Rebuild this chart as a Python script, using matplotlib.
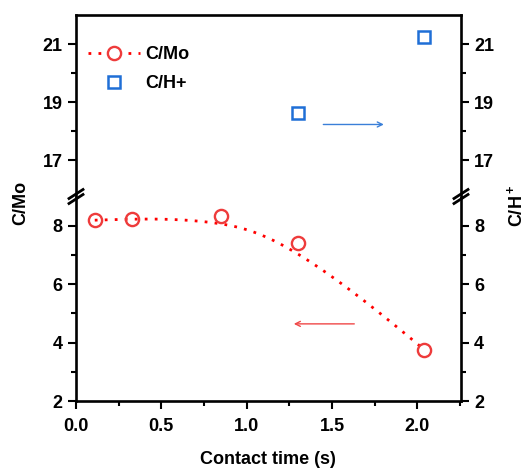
import numpy as np
import matplotlib
matplotlib.use("Agg")
import matplotlib.pyplot as plt
from matplotlib.lines import Line2D

plt.rcParams['font.family'] = ['Liberation Sans', 'DejaVu Sans']
plt.rcParams['font.weight'] = 'bold'
plt.rcParams['mathtext.fontset'] = 'custom'
plt.rcParams['mathtext.rm'] = 'Liberation Sans:bold'
plt.rcParams['mathtext.bf'] = 'Liberation Sans:bold'

# data
time_cmo = [0.11, 0.33, 0.85, 1.30, 2.04]
c_mo = [8.19, 8.23, 8.34, 7.40, 3.76]
time_ch = [1.30, 2.04]
c_h = [18.62, 21.24]
x_ticks = [0.0, 0.5, 1.0, 1.5, 2.0]
bot_ticks = [2, 4, 6, 8]
top_ticks = [17, 19, 21]

RED = '#EE3B3B'
LINE_RED = '#FF0000'
BLUE = '#1F6FD6'


def bspline_curve(px, py, n=300, k=3):
    """Clamped B-spline using the data points as control points (Origin 'B-Spline' connect)."""
    P = np.column_stack([px, py]).astype(float)
    m = len(P)
    inner = np.linspace(0, 1, m - k + 1)[1:-1]
    t = np.concatenate([np.zeros(k + 1), inner, np.ones(k + 1)])
    us = np.linspace(0, 1, n)
    out = []
    for u in us:
        if u >= 1:
            out.append(P[-1]); continue
        s = np.searchsorted(t, u, side='right') - 1
        d = [P[j + s - k].copy() for j in range(k + 1)]
        for r in range(1, k + 1):
            for j in range(k, r - 1, -1):
                i = j + s - k
                a = (u - t[i]) / (t[i + k + 1 - r] - t[i])
                d[j] = (1 - a) * d[j - 1] + a * d[j]
        out.append(d[k])
    out = np.array(out)
    return out[:, 0], out[:, 1]


W, H = 528, 470
fig = plt.figure(figsize=(W / 100, H / 100), dpi=100)
left, right = 76 / W, 461 / W
y_top, y_break, y_bot = 15, 196.5, 401
ax_b = fig.add_axes([left, 1 - y_bot / H, right - left, (y_bot - y_break) / H])
ax_t = fig.add_axes([left, 1 - y_break / H, right - left, (y_break - y_top) / H], sharex=ax_b)

ax_b.set_xlim(0, 2.256)
ax_b.set_ylim(2, 9.0)
ax_t.set_ylim(15.75, 22)

lw_sp = 1.9
for ax in (ax_b, ax_t):
    for s in ax.spines.values():
        s.set_linewidth(lw_sp)
    ax.tick_params(which='major', direction='out', length=6, width=1.5, labelsize=13,
                   left=True, right=True, labelleft=True, labelright=True, top=False)
    ax.tick_params(which='minor', direction='out', length=3.5, width=1.5,
                   left=True, right=True, top=False)
ax_t.spines['bottom'].set_visible(False)
ax_b.spines['top'].set_visible(False)
ax_t.tick_params(axis='x', which='both', bottom=False, labelbottom=False)
ax_b.set_xticks(x_ticks)
ax_b.set_xticks(np.arange(0.25, 2.26, 0.5), minor=True)
ax_b.set_xticklabels([f'{v:.1f}' for v in x_ticks])
ax_b.set_yticks(bot_ticks)
ax_b.set_yticks([3, 5, 7], minor=True)
ax_t.set_yticks(top_ticks)
ax_t.set_yticks([18, 20], minor=True)
ax_b.tick_params(axis='x', which='major', length=6, pad=6)
for ax in (ax_b, ax_t):
    for lab in ax.get_xticklabels() + ax.get_yticklabels():
        lab.set_fontweight('bold')

LS = (0, (1, 2.6))
# data
xs, ys = bspline_curve(time_cmo, c_mo)
ax_b.plot(xs, ys, color=LINE_RED, lw=2.0, linestyle=LS, zorder=2)
ax_b.plot(time_cmo, c_mo, 'o', ms=9.5, mfc='none', mec=RED, mew=1.7, zorder=3)
ax_t.plot(time_ch, c_h, 's', ms=8, mfc='white', mec=BLUE, mew=1.8, zorder=3)

# legend
h1 = Line2D([], [], color=LINE_RED, lw=2.0, linestyle=LS, marker='o', ms=9.5,
            mfc='white', mec=RED, mew=1.7)
h2 = Line2D([], [], linestyle='none', marker='s', ms=8, mfc='white', mec=BLUE, mew=1.8)
ax_t.legend([h1, h2], ['C/Mo', 'C/H+'], loc='upper left', bbox_to_anchor=(0.031, 0.83),
            frameon=False, handlelength=2.9, handletextpad=0.3,
            labelspacing=0.68, borderpad=0, borderaxespad=0, prop={'weight': 'bold', 'size': 13})

# arrows
ax_t.annotate('', xy=(1.82, 18.23), xytext=(1.433, 18.23),
              arrowprops=dict(arrowstyle='->', color='#3A7FD8', lw=1.0, mutation_scale=9))
ax_b.annotate('', xy=(1.26, 4.64), xytext=(1.647, 4.64),
              arrowprops=dict(arrowstyle='->', color='#F04848', lw=1.0, mutation_scale=9))


# break marks
def brk(xpx, ypx):
    for dy in (-2.5, 2.5):
        x0, x1 = xpx - 7, xpx + 7
        y0, y1 = ypx + dy + 4.5, ypx + dy - 4.5
        fig.add_artist(Line2D([x0 / W, x1 / W], [1 - y0 / H, 1 - y1 / H],
                              color='black', lw=2.0, transform=fig.transFigure))


brk(76, y_break)
brk(461, y_break)

fig.text(21 / W, 1 - 203 / H, 'C/Mo', rotation=90, ha='center', va='center',
         fontsize=13, fontweight='bold')
fig.text(516 / W, 1 - 206 / H, 'C/H$^+$', rotation=90, ha='center', va='center',
         fontsize=13, fontweight='bold')
fig.text(268 / W, 1 - 460 / H, 'Contact time (s)', ha='center', va='center',
         fontsize=13, fontweight='bold')

fig.savefig('out.png', dpi=100)
